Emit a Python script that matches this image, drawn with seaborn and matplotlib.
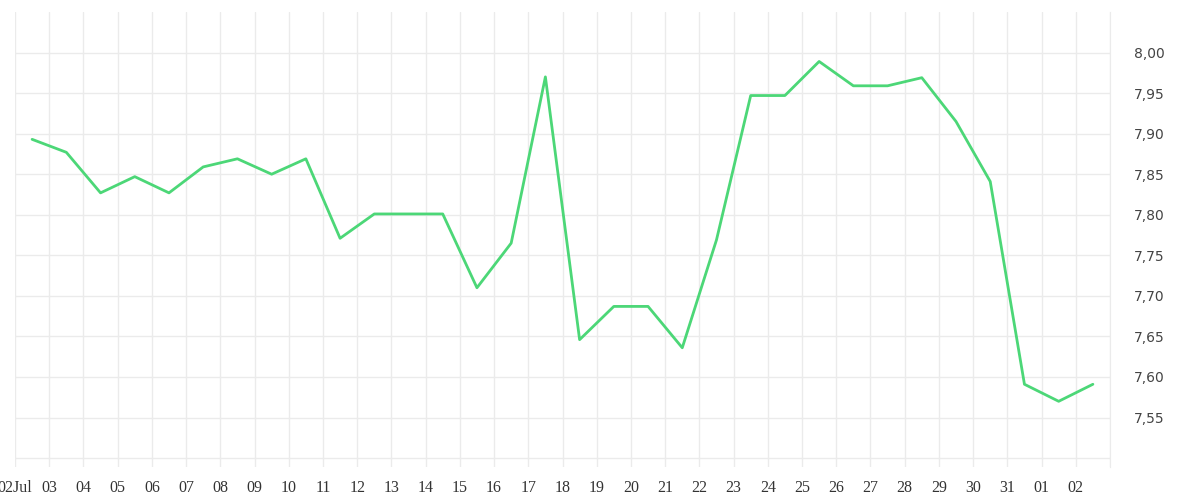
#Daily rate line chart, Jul 2 - Aug 2
import numpy as np
import pandas as pd
import matplotlib
matplotlib.use('Agg')
import matplotlib.pyplot as plt
import seaborn as sns

# values, one per day (plotted at noon)
days = pd.date_range('2023-07-02 12:00', '2023-08-02 12:00', freq='D')
rates = [7.893, 7.877, 7.827, 7.847, 7.827, 7.859, 7.869, 7.850, 7.869, 7.771,
         7.801, 7.801, 7.801, 7.710, 7.765, 7.970, 7.646, 7.687, 7.687, 7.636,
         7.769, 7.947, 7.947, 7.989, 7.959, 7.959, 7.969, 7.915, 7.841, 7.591,
         7.570, 7.591]
tick_days = pd.date_range('2023-07-02', '2023-08-03', freq='D')
tick_labels = ['02Jul'] + [d.strftime('%d') for d in tick_days[1:-1]] + ['']
y_ticks = [7.55, 7.60, 7.65, 7.70, 7.75, 7.80, 7.85, 7.90, 7.95, 8.00]

df = pd.DataFrame({'day': days, 'rate': rates})

sns.set_style('white')
fig = plt.figure(figsize=(12, 5), dpi=100)
ax = fig.add_axes([0.0125, 0.066, 0.9125, 0.91])

sns.lineplot(data=df, x='day', y='rate', color='#4cd777', linewidth=2, ax=ax)

ax.set_xlim(tick_days[0], tick_days[-1])
ax.set_ylim(7.489, 8.05)
ax.set_xticks(tick_days)
ax.set_xticklabels(tick_labels, family='Liberation Serif', fontsize=11.5, color='#333333')
ax.set_yticks([7.50] + y_ticks)
ax.set_yticklabels([''] + [f'{v:.2f}'.replace('.', ',') for v in y_ticks],
                   fontsize=10, color='#444444')
ax.yaxis.tick_right()
ax.tick_params(axis='both', length=0)
ax.tick_params(axis='y', pad=17)
ax.tick_params(axis='x', pad=9)
ax.grid(True, color='#ebebeb', linewidth=1)
ax.set_xlabel('')
ax.set_ylabel('')
for side in ['top', 'left', 'bottom']:
    ax.spines[side].set_visible(False)
ax.spines['right'].set_color('#ebebeb')

fig.savefig('out.png', dpi=100)
